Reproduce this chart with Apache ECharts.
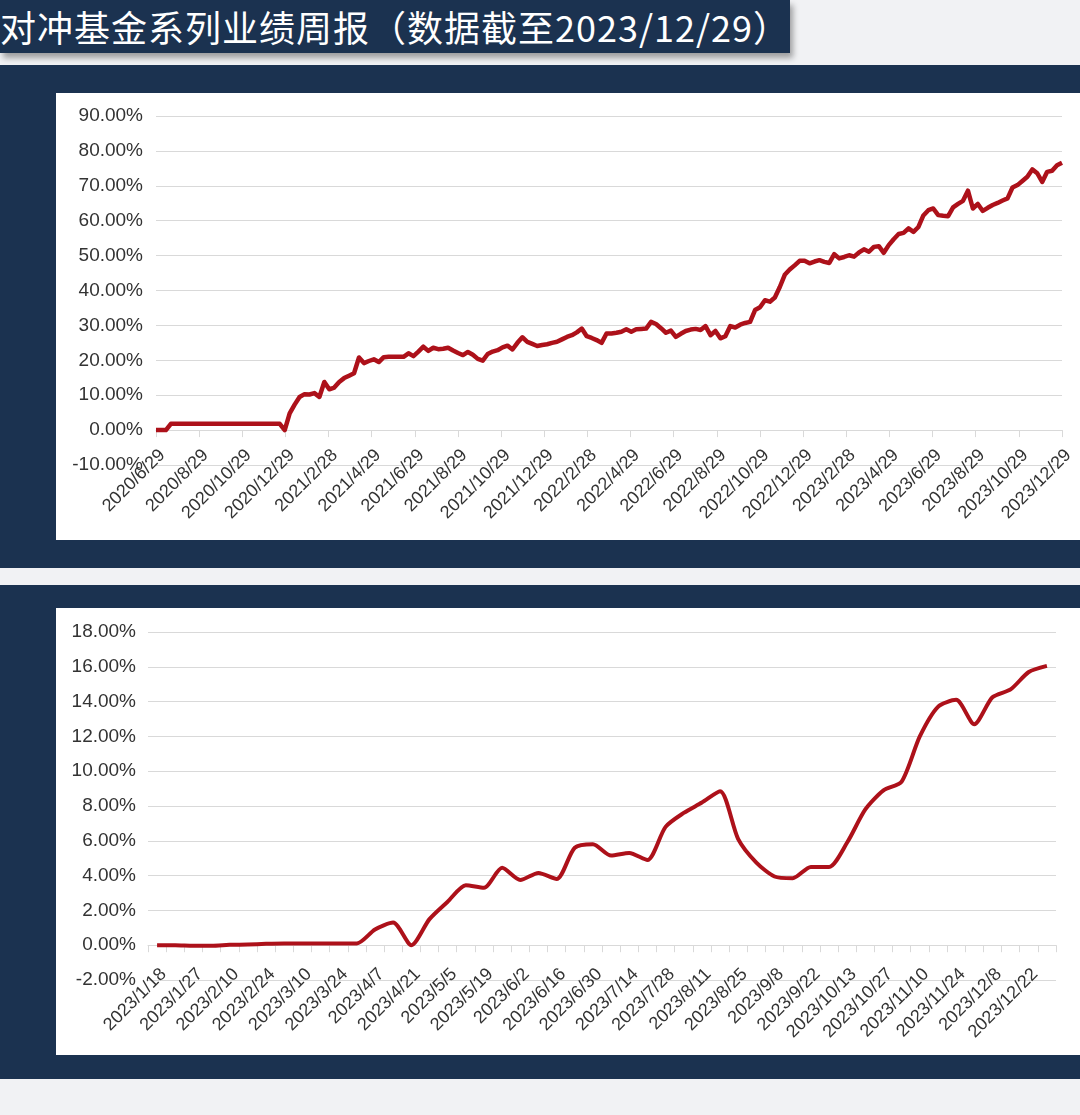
<!DOCTYPE html>
<html>
<head>
<meta charset="utf-8">
<script src="https://cdn.jsdelivr.net/npm/echarts@6/dist/echarts.min.js"></script>
<style>
  html, body { margin: 0; padding: 0; }
  body { width: 1080px; height: 1115px; background: #f1f2f4; position: relative; overflow: hidden; }
  .titleBar {
    position: absolute; left: 0; top: 0; width: 790px; height: 53px;
    background: #1b3250; color: #ffffff;
    font-family: "Noto Sans CJK SC", sans-serif; font-size: 36px; line-height: 52px;
    letter-spacing: 1px;
    white-space: nowrap; overflow: hidden; box-shadow: 3px 5px 6px rgba(0,0,0,0.35);
  }
  .band { position: absolute; left: 0; width: 1080px; background: #1b3250; }
  .panel { position: absolute; left: 56px; width: 1024px; height: 447px; background: #ffffff; }
</style>
</head>
<body>
<div class="titleBar">对冲基金系列业绩周报（数据截至2023/12/29）</div>
<div class="band" style="top:65px;height:503px;"></div>
<div class="band" style="top:585px;height:494px;"></div>
<div class="panel" id="topChart" style="top:93px;"></div>
<div class="panel" id="bottomChart" style="top:608px;"></div>

<script>
// 上图：成立以来累计收益（周度，%）
const topTickLabels = ["2020/6/29","2020/8/29","2020/10/29","2020/12/29","2021/2/28","2021/4/29","2021/6/29","2021/8/29","2021/10/29","2021/12/29","2022/2/28","2022/4/29","2022/6/29","2022/8/29","2022/10/29","2022/12/29","2023/2/28","2023/4/29","2023/6/29","2023/8/29","2023/10/29","2023/12/29"];
const topValues = [
  0, 0, 0, 1.8, 1.8, 1.8, 1.8, 1.8, 1.8, 1.8,
  1.8, 1.8, 1.8, 1.8, 1.8, 1.8, 1.8, 1.8, 1.8, 1.8,
  1.8, 1.8, 1.8, 1.8, 1.8, 1.8, 0, 4.8, 7.3, 9.5,
  10.3, 10.2, 10.6, 9.5, 13.8, 11.7, 12.2, 13.8, 14.9, 15.6,
  16.3, 20.8, 19.2, 19.8, 20.3, 19.5, 20.9, 21.0, 21.0, 21.0,
  21.0, 22.0, 21.2, 22.5, 23.9, 22.7, 23.6, 23.2, 23.3, 23.6,
  22.8, 22.1, 21.5, 22.4, 21.6, 20.4, 19.9, 21.8, 22.5, 22.9,
  23.7, 24.2, 23.1, 25.0, 26.6, 25.3, 24.7, 24.1, 24.4, 24.6,
  25.0, 25.3, 26.0, 26.7, 27.2, 28.0, 29.1, 26.9, 26.4, 25.8,
  25.0, 27.7, 27.7, 27.9, 28.2, 28.9, 28.2, 28.9, 29.0, 29.1,
  31.0, 30.4, 29.2, 27.9, 28.5, 26.7, 27.6, 28.4, 28.8, 29.0,
  28.7, 29.8, 27.2, 28.4, 26.3, 26.9, 29.8, 29.4, 30.2, 30.7,
  31.0, 34.4, 35.2, 37.2, 36.8, 38.0, 41.0, 44.5, 46.0, 47.2,
  48.5, 48.5, 47.8, 48.3, 48.7, 48.2, 47.9, 50.4, 49.2, 49.6,
  50.1, 49.7, 50.9, 51.8, 51.1, 52.5, 52.7, 50.8, 53.0, 54.7,
  56.2, 56.5, 57.8, 56.8, 58.2, 61.5, 63.0, 63.5, 61.6, 61.4,
  61.3, 63.8, 64.8, 65.7, 68.6, 63.5, 64.8, 62.8, 63.7, 64.5,
  65.1, 65.8, 66.4, 69.5, 70.2, 71.4, 72.6, 74.7, 73.6, 71.1,
  74.0, 74.3, 75.9, 76.6
];

// 下图：2023年以来累计收益（周度，%）
const bottomDates = ["2023/1/18","2023/1/20","2023/1/27","2023/2/3","2023/2/10","2023/2/17","2023/2/24","2023/3/3","2023/3/10","2023/3/17","2023/3/24","2023/3/31","2023/4/7","2023/4/14","2023/4/21","2023/4/28","2023/5/5","2023/5/12","2023/5/19","2023/5/26","2023/6/2","2023/6/9","2023/6/16","2023/6/21","2023/6/30","2023/7/7","2023/7/14","2023/7/21","2023/7/28","2023/8/4","2023/8/11","2023/8/18","2023/8/25","2023/9/1","2023/9/8","2023/9/15","2023/9/22","2023/9/28","2023/10/13","2023/10/20","2023/10/27","2023/11/3","2023/11/10","2023/11/17","2023/11/24","2023/12/1","2023/12/8","2023/12/15","2023/12/22","2023/12/29"];
const bottomValues = [
  0.0, 0.0, -0.03, -0.03, 0.02, 0.04, 0.08, 0.1, 0.1, 0.1,
  0.1, 0.1, 0.9, 1.3, 0.0, 1.5, 2.5, 3.45, 3.3, 4.45,
  3.75, 4.15, 3.8, 5.6, 5.8, 5.15, 5.3, 4.9, 6.8, 7.6,
  8.2, 8.85, 6.1, 4.75, 3.95, 3.85, 4.5, 4.5, 5.9, 7.8,
  8.9, 9.4, 12.0, 13.7, 14.1, 12.7, 14.25, 14.7, 15.7, 16.05
];

const LINE_COLOR = "#ad111a";
const LABEL_COLOR = "#333333";
const GRID_COLOR = "#d9d9d9";
const AXIS_FONT = "Liberation Sans";

function pct(v) {
  return v.toFixed(2) + "%";
}

function setTopChart() {
  let option = {
    animation: false,
    grid: {
      left: 100, right: 18, top: 23, bottom: 75,
      containLabel: false, outerBoundsMode: "none",
    },
    xAxis: [
      {
        type: "category",
        boundaryGap: false,
        data: topTickLabels,
        axisLine: { onZero: true, lineStyle: { color: GRID_COLOR, width: 1 } },
        axisTick: { show: true, length: 7, lineStyle: { color: GRID_COLOR } },
        axisLabel: {
          interval: 0, rotate: 45, margin: -19, verticalAlign: "top",
          color: LABEL_COLOR, fontSize: 18, fontFamily: AXIS_FONT,
        },
        splitLine: { show: false },
      },
      {
        type: "value",
        min: 0,
        max: topValues.length - 1,
        show: false,
      },
    ],
    yAxis: {
      type: "value",
      min: -10, max: 90, interval: 10,
      axisLine: { show: false },
      axisTick: { show: false },
      axisLabel: {
        margin: 13, color: LABEL_COLOR, fontSize: 19, fontFamily: AXIS_FONT,
        formatter: pct,
      },
      splitLine: { lineStyle: { color: GRID_COLOR, width: 1 } },
    },
    series: [
      {
        type: "line",
        xAxisIndex: 1,
        symbol: "none",
        lineStyle: { color: LINE_COLOR, width: 4.5, join: "round" },
        data: topValues.map((v, i) => [i, v]),
      },
    ],
  };
  let myChart = echarts.init(document.getElementById("topChart"));
  myChart.setOption(option);
}

function setBottomChart() {
  let option = {
    animation: false,
    grid: {
      left: 92, right: 24, top: 24, bottom: 75,
      containLabel: false, outerBoundsMode: "none",
    },
    xAxis: {
      type: "category",
      boundaryGap: true,
      data: bottomDates,
      axisLine: { onZero: true, lineStyle: { color: GRID_COLOR, width: 1 } },
      axisTick: { show: true, interval: 0, length: 7, lineStyle: { color: GRID_COLOR } },
      axisLabel: {
        interval: 1, rotate: 45, margin: -15, verticalAlign: "top",
        color: LABEL_COLOR, fontSize: 18, fontFamily: AXIS_FONT,
      },
      splitLine: { show: false },
    },
    yAxis: {
      type: "value",
      min: -2, max: 18, interval: 2,
      axisLine: { show: false },
      axisTick: { show: false },
      axisLabel: {
        margin: 12, color: LABEL_COLOR, fontSize: 19, fontFamily: AXIS_FONT,
        formatter: pct,
      },
      splitLine: { lineStyle: { color: GRID_COLOR, width: 1 } },
    },
    series: [
      {
        type: "line",
        symbol: "none",
        smooth: 0.25,
        lineStyle: { color: LINE_COLOR, width: 4, join: "round" },
        data: bottomValues,
      },
    ],
  };
  let myChart = echarts.init(document.getElementById("bottomChart"));
  myChart.setOption(option);
}

setTopChart();
setBottomChart();
</script>
</body>
</html>
